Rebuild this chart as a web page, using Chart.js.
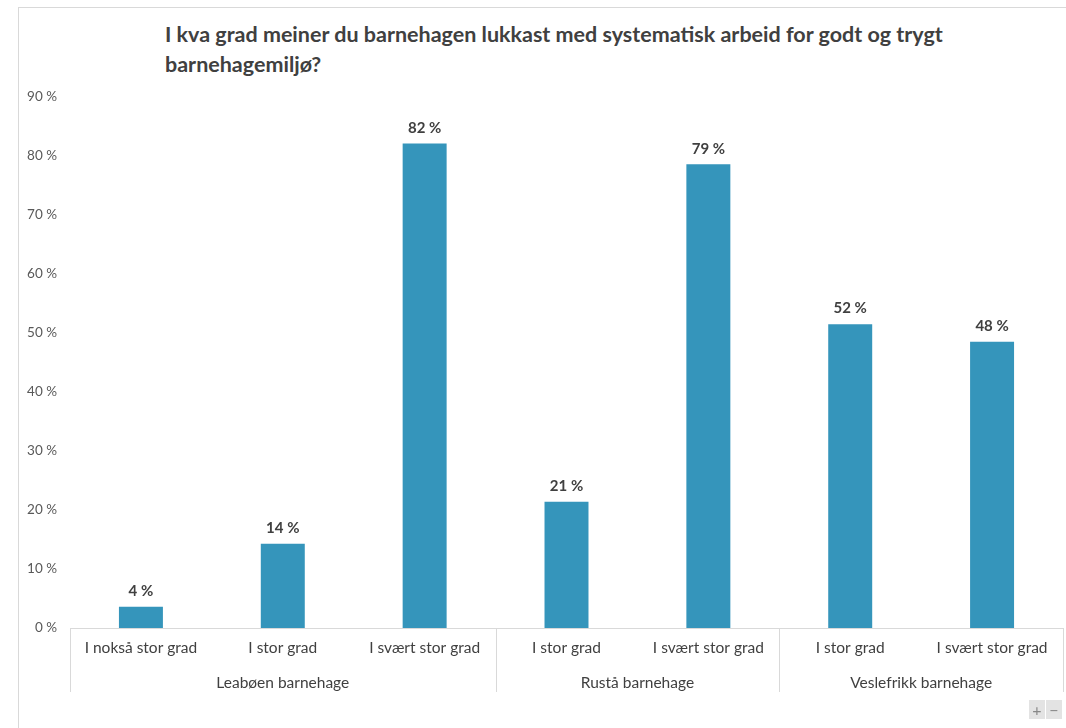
<!DOCTYPE html>
<html>
<head>
<meta charset="utf-8">
<script src="https://cdn.jsdelivr.net/npm/chart.js@4.4.0/dist/chart.umd.min.js"></script>
<style>
  html, body { margin: 0; padding: 0; background: #fff; }
  #wrap { position: relative; width: 1066px; height: 728px; overflow: hidden; }
  #frame { position: absolute; left: 18px; top: 7px; right: -2px; bottom: -2px; border: 1px solid #d9d9d9; }
  #title { position: absolute; left: 165px; top: 19px; width: 860px; font: bold 21.5px Lato, sans-serif; color: #404040; line-height: 30px; }
  #zoom { position: absolute; right: 4px; bottom: 9px; font: 16px Lato, sans-serif; color: #888; }
  #zoom span { display: inline-block; width: 16px; height: 19px; line-height: 19px; text-align: center; background: #e3e3e3; margin-left: 1px; }
  canvas { position: absolute; left: 0; top: 0; }
</style>
</head>
<body>
<div id="wrap">
  <div id="frame"></div>
  <div id="title">I kva grad meiner du barnehagen lukkast med systematisk arbeid for godt og trygt barnehagemiljø?</div>
  <canvas id="chart" width="1066" height="728"></canvas>
  <div id="zoom"><span>+</span><span>−</span></div>
</div>
<script>
const categories = ["I nokså stor grad", "I stor grad", "I svært stor grad", "I stor grad", "I svært stor grad", "I stor grad", "I svært stor grad"];
const groups = ["Leabøen barnehage", "Rustå barnehage", "Veslefrikk barnehage"];
const groupSizes = [3, 2, 2];
const values = [3.6, 14.3, 82.1, 21.4, 78.6, 51.5, 48.5];
const valueLabels = ["4 %", "14 %", "82 %", "21 %", "79 %", "52 %", "48 %"];

const FONT = "Lato, sans-serif";

// value labels above bars
const barLabels = {
    id: "barLabels",
    afterDatasetsDraw(chart) {
        const ctx = chart.ctx;
        ctx.save();
        ctx.font = "bold 15px " + FONT;
        ctx.fillStyle = "#404040";
        ctx.textAlign = "center";
        ctx.textBaseline = "bottom";
        chart.getDatasetMeta(0).data.forEach((bar, i) => {
            ctx.fillText(valueLabels[i], bar.x, bar.y - 8);
        });
        ctx.restore();
    },
};

// group labels and separators under the category labels
const groupAxis = {
    id: "groupAxis",
    afterDraw(chart) {
        const ctx = chart.ctx;
        const x = chart.scales.x;
        const top = chart.chartArea.bottom;
        const half = (x.getPixelForValue(1) - x.getPixelForValue(0)) / 2;
        ctx.save();
        ctx.strokeStyle = "#d9d9d9";
        ctx.lineWidth = 1;
        ctx.font = "15.5px " + FONT;
        ctx.fillStyle = "#404040";
        ctx.textAlign = "center";
        ctx.textBaseline = "middle";
        let start = 0;
        const edge = (px) => {
            ctx.beginPath();
            ctx.moveTo(Math.round(px) + 0.5, top);
            ctx.lineTo(Math.round(px) + 0.5, top + 64);
            ctx.stroke();
        };
        edge(x.getPixelForValue(0) - half);
        groups.forEach((g, gi) => {
            const end = start + groupSizes[gi] - 1;
            const l = x.getPixelForValue(start) - half;
            const r = x.getPixelForValue(end) + half;
            edge(r);
            ctx.fillText(g, (l + r) / 2, top + 55);
            start = end + 1;
        });
        ctx.restore();
    },
};

new Chart(document.getElementById("chart"), {
    type: "bar",
    data: {
        labels: categories,
        datasets: [
            {
                data: values,
                backgroundColor: "#3595bb",
                barPercentage: 0.62,
                categoryPercentage: 0.5,
            },
        ],
    },
    options: {
        responsive: false,
        animation: false,
        layout: { padding: { left: 18, right: 3, top: 97, bottom: 36 } },
        plugins: {
            legend: { display: false },
            tooltip: { enabled: false },
        },
        scales: {
            x: {
                grid: { display: false, drawTicks: false },
                border: { display: true, color: "#d9d9d9" },
                ticks: {
                    color: "#404040",
                    font: { family: FONT, size: 15.5 },
                    padding: 11,
                    maxRotation: 0,
                    autoSkip: false,
                },
                afterFit(s) { s.height = 64; },
            },
            y: {
                min: 0,
                max: 90,
                grid: { display: false, drawTicks: false },
                border: { display: false },
                ticks: {
                    stepSize: 10,
                    color: "#595959",
                    font: { family: FONT, size: 13.5 },
                    padding: 13,
                    callback: (v) => v + " %",
                },
                afterFit(s) { s.width = 52; },
            },
        },
    },
    plugins: [barLabels, groupAxis],
});
</script>
</body>
</html>
